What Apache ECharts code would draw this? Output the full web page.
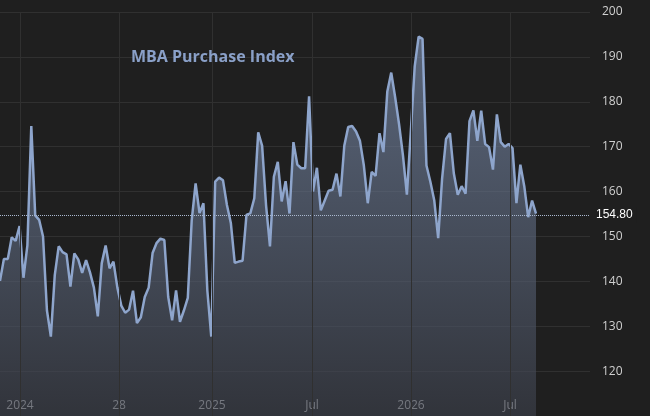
<!DOCTYPE html><html><head><meta charset="utf-8"><script src="https://cdn.jsdelivr.net/npm/echarts@6/dist/echarts.min.js"></script>
<style>html,body{margin:0;background:#1f1f1f}#c{width:650px;height:416px}</style></head><body><div id="c"></div><script>
const values=[140.1,145,145,149.8,149,152.3,140.8,148,174.6,154.7,153.7,150,133.5,127.7,141.4,147.8,146.5,146,138.8,146.2,144.9,141.9,144.7,142,138.6,132.2,144,148,142.9,144.4,138.6,134.6,133,133.7,137.9,130.7,132,136.5,138.6,146.3,148.5,149.5,149.2,136.5,131.3,138,131,133.5,136.3,153.6,161.8,155.2,157.4,137.9,127.7,162.2,163.1,162.5,157,153,144.1,144.4,144.6,154.8,155.2,158.5,173.2,
170.2,157,147.8,163.3,166.6,157.8,162.3,155.1,171,166,165.2,165.2,181.2,160,165.3,155.8,158,160.2,160.4,164,158.9,170.2,174.4,174.6,173.4,171.3,165.8,157.4,164.4,163.5,173,168.8,182.3,186.5,181,175,168,159.3,173.3,187.9,194.5,194,165.8,162.2,158,149.6,162.9,171.7,173,164,159.3,161.2,159.5,175.7,178.1,171.3,178,170.6,169.9,164.9,177.2,171,170,170.6,169.7,157.4,166,161.2,154.3,158,155.1];
const tickLabels=['2024','28','2025','Jul','2026','Jul'];
const tickPx=[20,119,212,312,411,510];
const lastValue=154.80;
const N=values.length, endPx=536, plotW=590;
const xmax=(N-1)*plotW/endPx;
const tickIdx=tickPx.map(p=>p/endPx*(N-1));
const c=echarts.init(document.getElementById('c'));
c.setOption({backgroundColor:'#1f1f1f',animation:false,
title:{text:'MBA Purchase Index',left:126,top:44,textStyle:{color:'#8aa0c8',fontSize:16,fontWeight:'bold',fontFamily:'Open Sans'}},
grid:{left:0,right:60,top:12,bottom:-3},
xAxis:{type:'value',min:0,max:xmax,axisLine:{show:false},axisTick:{show:false},
 splitLine:{show:false},
 axisLabel:{inside:true,margin:4,customValues:tickIdx,color:'#d0d0d0',fontSize:12,fontFamily:'Open Sans',formatter:(v)=>{let i=tickIdx.findIndex(t=>Math.abs(t-v)<0.01);return i>=0?tickLabels[i]:'';}}},
yAxis:{type:'value',position:'right',min:110,max:200,interval:10,axisLine:{show:false},axisTick:{show:false},
 axisLabel:{showMinLabel:false,color:'#d0d0d0',fontSize:12,margin:12,fontFamily:'Open Sans'},splitLine:{lineStyle:{color:'#303030'}}},
series:[{type:'line',data:values.map((v,i)=>[i,v]),symbol:'none',lineStyle:{color:'#8ea5cc',width:2.5},
 areaStyle:{origin:'start',color:new echarts.graphic.LinearGradient(0,0,0,1,[{offset:0,color:'rgba(130,150,185,0.85)'},{offset:1,color:'rgba(60,64,75,0.9)'}])},
 markLine:{symbol:'none',silent:true,data:[{yAxis:lastValue}],lineStyle:{color:'#aab8d0',type:'dotted',width:1},
  label:{position:'end',formatter:lastValue.toFixed(2),color:'#ffffff',fontSize:12,backgroundColor:'#1f1f1f',padding:[2,4],distance:2}}},
 {type:'line',data:tickIdx.map(t=>[t,200]),symbol:'none',lineStyle:{width:0},
  markLine:{symbol:'none',silent:true,label:{show:false},lineStyle:{color:'#303030',type:'solid',width:1},data:tickIdx.map(t=>({xAxis:t}))}}]
});
</script></body></html>
